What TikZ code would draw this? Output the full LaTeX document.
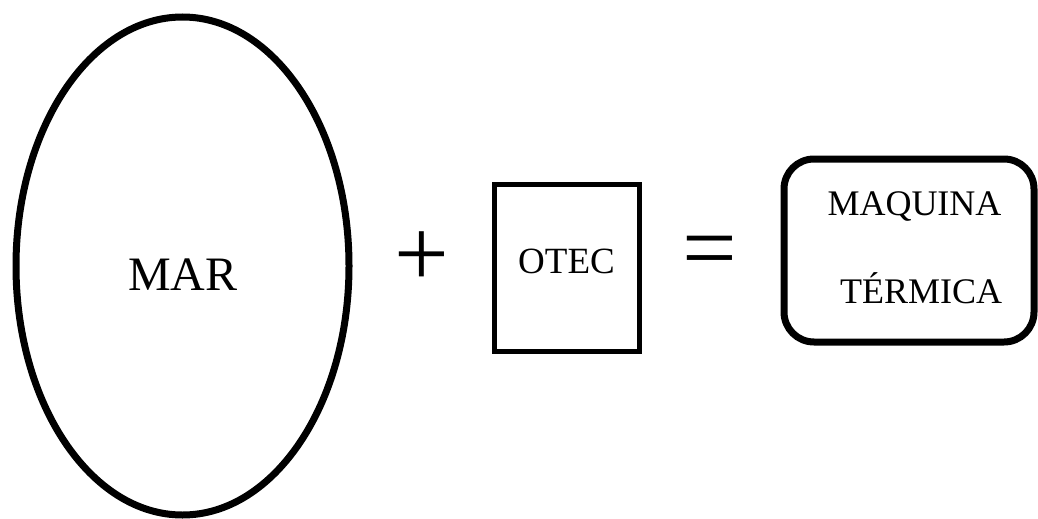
\documentclass[tikz,border=0pt]{standalone}
\usepackage{fontspec}
\setmainfont{Liberation Serif}
\usetikzlibrary{shapes.geometric}

\begin{document}
\begin{tikzpicture}[x=1pt, y=-1pt,
        shapeline/.style={draw, inner sep=0pt},
        word/.style={inner sep=0pt}]
            \useasboundingbox (0,0) rectangle (1038,519);
            \node[shapeline, ellipse, line width=7pt, minimum width=333pt, minimum height=498pt] (mar) at (182.5,266) {};
            \node[word, font=\fontsize{48}{48}\selectfont] (martext) at (183,275) {MAR};
            \node[word, font=\fontsize{97}{97}\selectfont] (plus) at (421.5,259) {+};
            \node[shapeline, rectangle, line width=5pt, minimum width=144.5pt, minimum height=167pt] (otec) at (567,268) {};
            \node[word, font=\fontsize{37}{37}\selectfont] (otectext) at (566.5,261.5) {OTEC};
            \node[word, font=\fontsize{97}{97}\selectfont] (equal) at (709.5,258) {=};
            \node[shapeline, rectangle, rounded corners=30pt, line width=7pt, minimum width=250pt, minimum height=183pt] (maquina) at (909,250.5) {};
            \node[word, font=\fontsize{36}{36}\selectfont, anchor=base] (line1) at (914.5,215) {MAQUINA};
            \node[word, font=\fontsize{36}{36}\selectfont, anchor=base] (line2) at (921,303) {TÉRMICA};
        \end{tikzpicture}
\end{document}
